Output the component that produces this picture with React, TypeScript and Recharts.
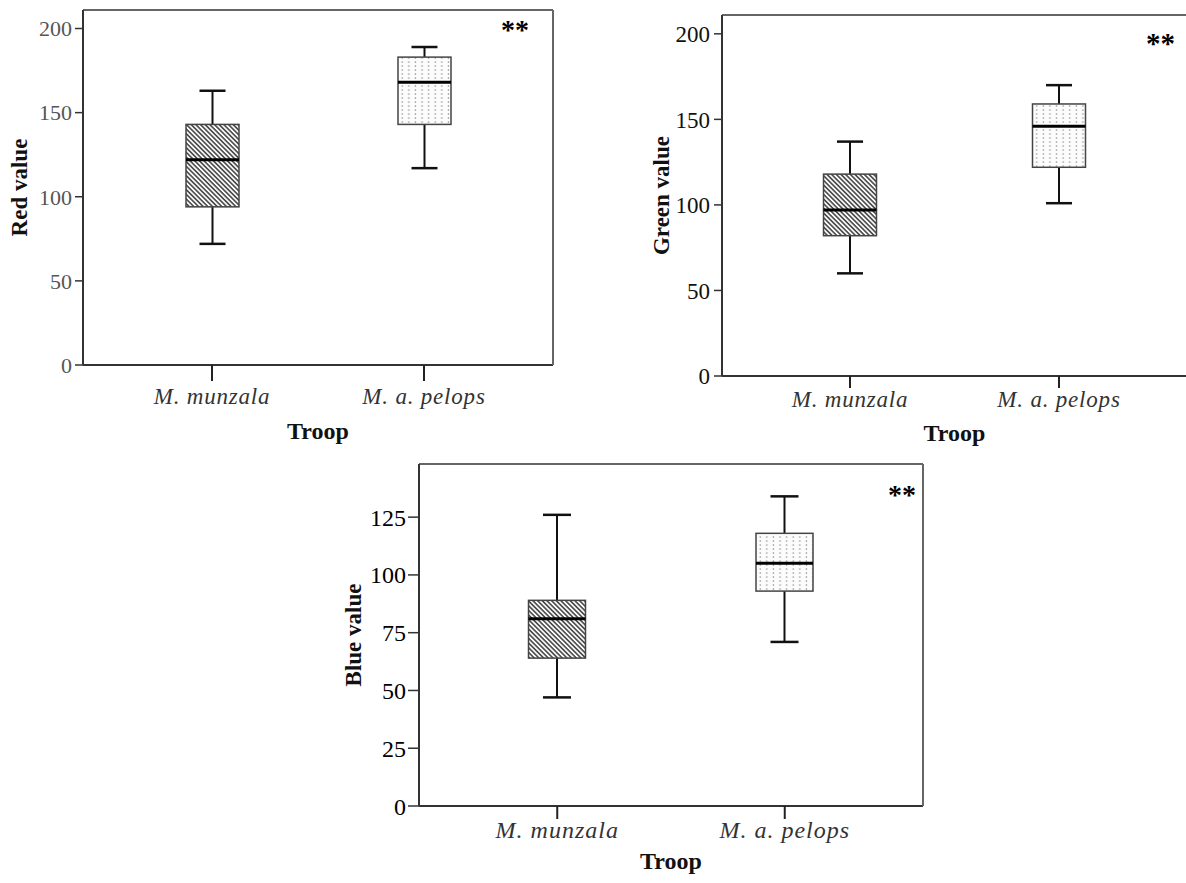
import React from 'react';
import { ComposedChart, Bar, XAxis, YAxis, ReferenceLine, Label } from 'recharts';

// ---------- data ----------
const categories = ['M. munzala', 'M. a. pelops'];
const fillPatterns = ['hatch', 'dots'];

const redMin = [72, 117];
const redQ1 = [94, 143];
const redMedian = [122, 168];
const redQ3 = [143, 183];
const redMax = [163, 189];

const greenMin = [60, 101];
const greenQ1 = [82, 122];
const greenMedian = [97, 146];
const greenQ3 = [118, 159];
const greenMax = [137, 170];

const blueMin = [47, 71];
const blueQ1 = [64, 93];
const blueMedian = [81, 105];
const blueQ3 = [89, 118];
const blueMax = [126, 134];

const redTicks = [0, 50, 100, 150, 200];
const greenTicks = [0, 50, 100, 150, 200];
const blueTicks = [0, 25, 50, 75, 100, 125];

const xAxisTitle = 'Troop';
const significance = '**';

function buildRows(min: number[], q1: number[], med: number[], q3: number[], max: number[]) {
  return categories.map((name, i) => ({
    name,
    min: min[i],
    q1: q1[i],
    median: med[i],
    q3: q3[i],
    max: max[i],
    pattern: fillPatterns[i],
  }));
}

const redRows = buildRows(redMin, redQ1, redMedian, redQ3, redMax);
const greenRows = buildRows(greenMin, greenQ1, greenMedian, greenQ3, greenMax);
const blueRows = buildRows(blueMin, blueQ1, blueMedian, blueQ3, blueMax);

const FONT = '"Liberation Serif", "Times New Roman", serif';

type Layout = {
  id: string;
  left: number;
  top: number;
  width: number;
  height: number;
  yAxisWidth: number;
  marginTop: number;
  rightWidth: number;
  xAxisHeight: number;
  pad: number;
  boxW: number;
  capW: number;
  xTickSize: number;
  xLabelDy: number;
  troopDy: number;
  yLabelX: number;
  yTickSize: number;
  yTickMargin: number;
  yTickFont: number;
  yTickColor: string;
  starRight: number;
  starBaseline: number;
  starSize: number;
  catFont: number;
  catSpacing: number;
};

function BoxShape(props: any) {
  const { x, y, width, height, payload, index, L } = props;
  if (payload == null) return null;
  const top = Math.min(y, y + height);
  const bottom = Math.max(y, y + height);
  const span = bottom - top;
  const range = payload.max - payload.min;
  const py = (v: number) => top + ((payload.max - v) / range) * span;
  const cx = x + width / 2;
  const pid = `${L.id}-${payload.pattern}-${index}`;
  const yQ3 = py(payload.q3);
  const yQ1 = py(payload.q1);
  const yMed = py(payload.median);
  const yMax = py(payload.max);
  const yMin = py(payload.min);
  return (
    <g>
      <defs>
        {payload.pattern === 'hatch' ? (
          <pattern id={pid} patternUnits="userSpaceOnUse" width={3.3} height={3.3} patternTransform="rotate(-45)">
            <rect x={0} y={0} width={3.3} height={3.3} fill="#ffffff" />
            <line x1={0.9} y1={0} x2={0.9} y2={3.3} stroke="#444" strokeWidth={1.6} />
          </pattern>
        ) : (
          <pattern id={pid} patternUnits="userSpaceOnUse" width={6.6} height={4} x={x + 1} y={0}>
            <rect x={0} y={0} width={6.6} height={4} fill="#fcfcfc" />
            <rect x={2.6} y={1.4} width={1.3} height={1.3} fill="#8a8a8a" />
          </pattern>
        )}
      </defs>
      <line x1={cx} y1={yMax} x2={cx} y2={yQ3} stroke="#111" strokeWidth={2} />
      <line x1={cx} y1={yQ1} x2={cx} y2={yMin} stroke="#111" strokeWidth={2} />
      <line x1={cx - L.capW / 2} y1={yMax} x2={cx + L.capW / 2} y2={yMax} stroke="#111" strokeWidth={2.5} />
      <line x1={cx - L.capW / 2} y1={yMin} x2={cx + L.capW / 2} y2={yMin} stroke="#111" strokeWidth={2.5} />
      <rect x={x} y={yQ3} width={width} height={yQ1 - yQ3} fill={`url(#${pid})`} stroke="#444" strokeWidth={1.5} />
      <line x1={x} y1={yMed} x2={x + width} y2={yMed} stroke="#000" strokeWidth={3} />
    </g>
  );
}

function BoxPlotChart({ rows, domainMax, ticks, yLabel, L }: { rows: any[]; domainMax: number; ticks: number[]; yLabel: string; L: Layout }) {
  const CatTick = (p: any) => (
    <text
      x={p.x}
      y={p.y + L.xLabelDy}
      textAnchor="middle"
      fill="#333"
      fontFamily={FONT}
      fontStyle="italic"
      fontSize={L.catFont}
      letterSpacing={L.catSpacing}
    >
      {p.payload.value}
    </text>
  );
  return (
    <div style={{ position: 'absolute', left: L.left, top: L.top }}>
      <ComposedChart
        width={L.width}
        height={L.height}
        data={rows}
        margin={{ top: L.marginTop, right: 0, bottom: 0, left: 0 }}
      >
        <XAxis
          dataKey="name"
          type="category"
          height={L.xAxisHeight}
          padding={{ left: L.pad, right: L.pad }}
          tickSize={L.xTickSize}
          tickMargin={0}
          interval={0}
          axisLine={{ stroke: '#333', strokeWidth: 2 }}
          tickLine={{ stroke: '#222', strokeWidth: 2 }}
          tick={CatTick}
        >
          <Label
            content={(p: any) => {
              const vb = p.viewBox;
              return (
                <text
                  x={vb.x + vb.width / 2}
                  y={vb.y + L.troopDy}
                  textAnchor="middle"
                  fontFamily={FONT}
                  fontWeight="bold"
                  fontSize={24}
                  fill="#111"
                >
                  {xAxisTitle}
                </text>
              );
            }}
          />
        </XAxis>
        <YAxis
          yAxisId="l"
          width={L.yAxisWidth}
          domain={[0, domainMax]}
          ticks={ticks}
          allowDataOverflow
          tickSize={L.yTickSize}
          tickMargin={L.yTickMargin}
          axisLine={{ stroke: '#333', strokeWidth: 2 }}
          tickLine={{ stroke: '#333', strokeWidth: 1.5 }}
          tick={{ fill: L.yTickColor, fontSize: L.yTickFont, fontFamily: FONT }}
        >
          <Label
            content={(p: any) => {
              const vb = p.viewBox;
              const cx = vb.x + L.yLabelX;
              const cy = vb.y + vb.height / 2;
              return (
                <text
                  x={cx}
                  y={cy}
                  transform={`rotate(-90, ${cx}, ${cy})`}
                  textAnchor="middle"
                  fontFamily={FONT}
                  fontWeight="bold"
                  fontSize={23}
                  fill="#111"
                >
                  {yLabel}
                </text>
              );
            }}
          />
        </YAxis>
        <YAxis
          yAxisId="r"
          orientation="right"
          width={L.rightWidth}
          domain={[0, domainMax]}
          allowDataOverflow
          tick={false}
          tickLine={false}
          axisLine={{ stroke: '#666', strokeWidth: 2 }}
        />
        <ReferenceLine yAxisId="l" y={domainMax} stroke="#666" strokeWidth={2}>
          <Label
            content={(p: any) => {
              const vb = p.viewBox;
              return (
                <text
                  x={vb.x + vb.width - L.starRight}
                  y={vb.y + L.starBaseline}
                  textAnchor="end"
                  fontFamily={FONT}
                  fontWeight="bold"
                  fontSize={L.starSize}
                  fill="#000"
                >
                  {significance}
                </text>
              );
            }}
          />
        </ReferenceLine>
        <Bar
          yAxisId="l"
          dataKey={(d: any) => [d.min, d.max]}
          barSize={L.boxW}
          isAnimationActive={false}
          shape={(p: any) => <BoxShape {...p} L={L} />}
        />
      </ComposedChart>
    </div>
  );
}

const redLayout: Layout = {
  id: 'red', left: 0, top: 0, width: 560, height: 450,
  yAxisWidth: 83, marginTop: 10, rightWidth: 7, xAxisHeight: 85,
  pad: 23, boxW: 53, capW: 26, xTickSize: 16, xLabelDy: 23, troopDy: 74,
  yLabelX: 27, yTickSize: 8, yTickMargin: 3, yTickFont: 22, yTickColor: '#555',
  starRight: 24, starBaseline: 29, starSize: 28, catFont: 23, catSpacing: 0.8,
};

const greenLayout: Layout = {
  id: 'green', left: 600, top: 0, width: 590, height: 450,
  yAxisWidth: 122, marginTop: 15, rightWidth: 3, xAxisHeight: 74,
  pad: 23.5, boxW: 53, capW: 26, xTickSize: 12, xLabelDy: 19, troopDy: 65,
  yLabelX: 69, yTickSize: 8, yTickMargin: 4, yTickFont: 23, yTickColor: '#111',
  starRight: 12, starBaseline: 38, starSize: 29, catFont: 23, catSpacing: 0.8,
};

const blueLayout: Layout = {
  id: 'blue', left: 330, top: 455, width: 600, height: 428,
  yAxisWidth: 89, marginTop: 9, rightWidth: 7, xAxisHeight: 77,
  pad: 24.5, boxW: 57, capW: 28, xTickSize: 13, xLabelDy: 19, troopDy: 63,
  yLabelX: 31, yTickSize: 11, yTickMargin: 2, yTickFont: 24, yTickColor: '#000',
  starRight: 7, starBaseline: 40, starSize: 28, catFont: 24, catSpacing: 1,
};

export default function App() {
  return (
    <div
      style={{
        position: 'absolute',
        left: 0,
        top: 0,
        width: 1186,
        height: 883,
        overflow: 'hidden',
        background: '#fff',
      }}
    >
      <BoxPlotChart rows={redRows} domainMax={211} ticks={redTicks} yLabel="Red value" L={redLayout} />
      <BoxPlotChart rows={greenRows} domainMax={211} ticks={greenTicks} yLabel="Green value" L={greenLayout} />
      <BoxPlotChart rows={blueRows} domainMax={148} ticks={blueTicks} yLabel="Blue value" L={blueLayout} />
    </div>
  );
}
